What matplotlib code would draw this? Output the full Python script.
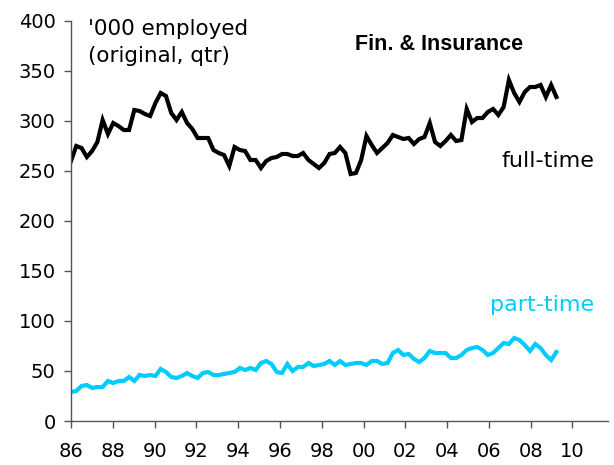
import numpy as np
import matplotlib
matplotlib.use("Agg")
import matplotlib.pyplot as plt

# quarterly, starting 1986
full_time = [260, 275, 273, 264, 270, 279, 301, 287, 298, 295, 291, 291, 311, 310, 307, 305,
             318, 328, 325, 308, 301, 309, 298, 292, 283, 283, 283, 271, 268, 266, 255, 274,
             271, 270, 261, 261, 253, 260, 263, 264, 267, 267, 265, 265, 268, 261, 257, 253,
             258, 267, 268, 274, 268, 247, 248, 261, 285, 276, 268, 273, 278, 286, 284, 282,
             283, 277, 282, 284, 298, 279, 275, 280, 286, 280, 281, 312, 299, 303, 303, 309,
             312, 306, 314, 341, 328, 319, 329, 334, 334, 336, 324, 336, 324]
part_time = [29, 30, 35, 36, 33, 34, 34, 40, 38, 40, 40, 44, 40, 46, 45, 46,
             45, 52, 49, 44, 43, 45, 48, 45, 43, 48, 49, 46, 46, 47, 48, 49,
             53, 51, 53, 51, 58, 60, 57, 49, 48, 57, 50, 54, 54, 58, 55, 56,
             57, 60, 56, 60, 56, 57, 58, 58, 56, 60, 60, 57, 58, 68, 71, 66,
             67, 62, 59, 63, 70, 68, 68, 68, 63, 63, 66, 71, 73, 74, 71, 66,
             68, 73, 78, 77, 83, 81, 76, 70, 77, 73, 66, 61, 69]
years = 1986 + np.arange(len(full_time)) * 0.2525

xticks = list(range(1986, 2011, 2))
xlabels = ["%02d" % (y % 100) for y in xticks]

fig = plt.figure(figsize=(6.14, 4.65), dpi=100)
ax = fig.add_axes([71 / 614, 44 / 465, 537 / 614, 400 / 465])

ax.plot(years, full_time, color="black", lw=3.0, solid_joinstyle="miter")
ax.plot(years, part_time, color="#00CCFF", lw=3.0, solid_joinstyle="miter")

ax.set_xlim(1986, 2011.7)
ax.set_ylim(0, 400)
ax.set_xticks(xticks)
ax.set_xticklabels(xlabels)
ax.set_yticks(range(0, 401, 50))

for s in ["top", "right"]:
    ax.spines[s].set_visible(False)
for s in ["left", "bottom"]:
    ax.spines[s].set_color("#555555")
    ax.spines[s].set_linewidth(1.0)
ax.tick_params(direction="out", length=5, width=1.0, color="#555555",
               labelsize=14, labelcolor="black")
ax.tick_params(axis="y", pad=6)
ax.tick_params(axis="x", pad=10)

ax.text(1986.8, 402, "'000 employed\n(original, qtr)", fontsize=15.5,
        va="top", ha="left", linespacing=1.45)
ax.text(1999.6, 376, "Fin. & Insurance", fontsize=15.5, fontweight="bold",
        family="Liberation Sans", va="center", ha="left")
ax.text(2011.05, 260, "full-time", fontsize=16, ha="right", va="center")
ax.text(2011.05, 116, "part-time", fontsize=16, ha="right", va="center",
        color="#00CCFF")

fig.savefig("out.png", dpi=100)
